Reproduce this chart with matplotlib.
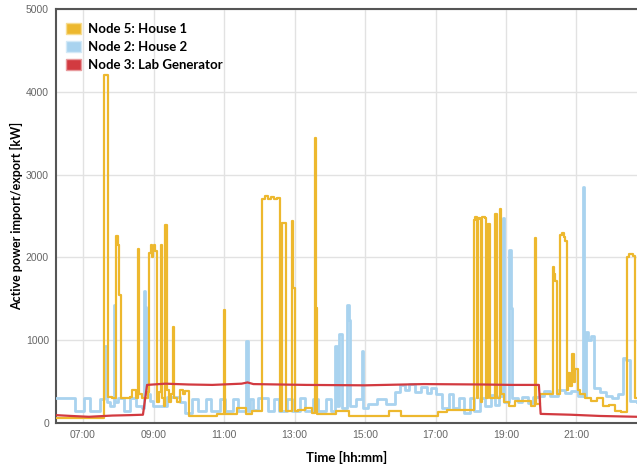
import matplotlib
matplotlib.use("Agg")
import matplotlib.pyplot as plt
from matplotlib.patches import Patch
import numpy as np

# ---- data (time in minutes after midnight, value in kW) ----
house1_t = [374, 456, 463, 470, 476, 479, 481, 485, 500, 504, 510, 514, 516, 520,
            530, 532, 535, 537, 539, 541, 543, 546, 549, 553, 555, 558, 560, 563, 566,
            570, 573, 575, 580, 585, 590, 594, 600, 648, 660, 662, 682, 697, 708, 725,
            730, 735, 740, 745, 750, 755, 759, 766, 776, 778, 781, 786, 798, 810, 815,
            817, 819, 850, 872, 940, 962, 1025, 1040, 1085, 1088, 1090, 1092, 1095,
            1097, 1100, 1104, 1106, 1110, 1112, 1122, 1124, 1130, 1132, 1136, 1145,
            1155, 1182, 1189, 1191, 1198, 1220, 1222, 1224, 1226, 1232, 1235, 1238,
            1241, 1243, 1246, 1249, 1252, 1255, 1258, 1262, 1266, 1275, 1285, 1295,
            1305, 1315, 1325, 1335, 1346, 1350, 1356, 1359, 1363]
house1_v = [55, 4200, 320, 300, 2260, 2150, 1550, 300, 320, 400, 300, 2100, 350, 300,
            380, 2050, 2150, 2000, 2100, 2150, 2080, 250, 380, 2150, 300, 200, 2390, 400, 250,
            350, 1160, 300, 250, 400, 350, 390, 85, 110, 1370, 110, 185, 110, 145, 2700,
            2740, 2710, 2730, 2700, 2720, 150, 2410, 150, 2440, 1630, 150, 160, 180, 120, 3440,
            1390, 110, 140, 90, 150, 90, 130, 160, 2450, 2490, 300, 2480, 2460,
            250, 2490, 2470, 300, 2400, 300, 2530, 300, 2590, 350, 250, 200,
            260, 210, 2240, 230, 350, 1880, 1800, 1720, 350, 2270, 2300, 2250,
            2200, 400, 600, 450, 830, 500, 650, 400, 350, 300, 260, 300,
            200, 220, 150, 130, 2000, 2040, 2020, 300, 300]

house2_t = [374, 406, 421, 432, 449, 456, 461, 466, 472, 475, 480, 490, 500, 510, 520,
            523, 525, 528, 534, 539, 563, 585, 594, 606, 615, 630, 638, 653, 662, 676,
            684, 697, 700, 704, 710, 718, 735, 745, 754, 768, 776, 790, 798, 812, 820,
            834, 842, 849, 852, 856, 861, 869, 872, 874, 884, 895, 897, 905, 920, 935, 951,
            960, 968, 975, 985, 995, 1005, 1012, 1020, 1031, 1043, 1050, 1060, 1068,
            1078, 1086, 1095, 1104, 1115, 1122, 1128, 1135, 1137, 1145, 1148, 1151,
            1160, 1168, 1178, 1186, 1196, 1205, 1215, 1228, 1240, 1250, 1262, 1271,
            1273, 1276, 1280, 1285, 1290, 1300, 1310, 1320, 1330, 1339, 1344, 1351,
            1363]
house2_v = [300, 145, 300, 145, 290, 930, 250, 200, 1420, 250, 300, 150, 300, 200, 180,
            1600, 1400, 350, 260, 200, 315, 250, 120, 290, 140, 290, 140, 290, 140, 290,
            140, 990, 150, 290, 160, 300, 140, 290, 150, 290, 150, 300, 150, 290, 150,
            290, 150, 930, 200, 1070, 180, 1420, 1250, 200, 290, 870, 180, 230, 290, 230, 380,
            460, 400, 470, 380, 440, 360, 420, 350, 180, 350, 180, 300, 120,
            300, 150, 300, 200, 340, 220, 330, 2470, 250, 2090, 1390, 300,
            250, 320, 240, 310, 330, 390, 330, 400, 360, 390, 330, 2850,
            330, 1100, 1000, 1050, 420, 380, 330, 300, 350, 790, 760, 270,
            250]

lab_t = [374, 400, 430, 470, 500, 522, 529, 560, 600, 640, 690, 700, 710, 800, 900,
         1000, 1100, 1150, 1196, 1199, 1250, 1300, 1363]
lab_v = [95, 85, 75, 90, 95, 100, 460, 475, 465, 460, 475, 490, 470, 460, 455,
         470, 465, 460, 460, 110, 100, 85, 75]

labels = ["Node 5: House 1", "Node 2: House 2", "Node 3: Lab Generator"]
xtick_hours = [7, 9, 11, 13, 15, 17, 19, 21]
ytick_vals = [0, 1000, 2000, 3000, 4000, 5000]

c_yellow = "#EDB82E"
c_blue = "#A9D3EF"
c_red = "#D23A40"

fig = plt.figure(figsize=(6.37, 4.68), dpi=100)
ax = fig.add_axes([56/637, 1-423/468, 1-56/637, (423-9)/468])

h1t = np.array(house1_t) / 60.0
h2t = np.array(house2_t) / 60.0
lbt = np.array(lab_t) / 60.0

ax.plot(h2t, house2_v, drawstyle="steps-post", color=c_blue, lw=2.0, zorder=3)
ax.plot(h1t, house1_v, drawstyle="steps-post", color=c_yellow, lw=1.6, zorder=4)
ax.plot(lbt, lab_v, color=c_red, lw=1.6, zorder=5)

ax.set_xlim(374/60, 1363/60)
ax.set_ylim(0, 5000)
ax.set_xticks(xtick_hours)
ax.set_xticklabels(["%02d:00" % h for h in xtick_hours])
ax.set_yticks(ytick_vals)
ax.tick_params(length=0, labelsize=7.5, labelcolor="#666666", pad=5)
for lab in ax.get_xticklabels() + ax.get_yticklabels():
    lab.set_fontfamily("Liberation Sans")
ax.grid(True, color="#e2e2e2", lw=1.0)
ax.set_axisbelow(True)
for s in ["top", "left", "bottom"]:
    ax.spines[s].set_color("#555555")
    ax.spines[s].set_linewidth(1.5)
ax.spines["right"].set_visible(False)

ax.set_xlabel("Time [hh:mm]", fontfamily="Lato", fontweight="bold", fontsize=9.5, labelpad=8)
ax.set_ylabel("Active power import/export [kW]", fontfamily="Lato", fontweight="bold",
              fontsize=9, labelpad=2)

handles = [Patch(facecolor=c_yellow, edgecolor="#F7DC90", lw=1.0),
           Patch(facecolor=c_blue, edgecolor="#D3E9F7", lw=1.0),
           Patch(facecolor=c_red, edgecolor="#E89A9D", lw=1.0)]
leg = ax.legend(handles, labels, loc="upper left", bbox_to_anchor=(-0.004, 0.995),
                frameon=False, prop={"family": "Lato", "weight": "bold", "size": 9.5},
                handlelength=1.2, handleheight=0.9, handletextpad=0.5, labelspacing=0.45)
leg.set_zorder(10)

fig.savefig("out.png", dpi=100)
